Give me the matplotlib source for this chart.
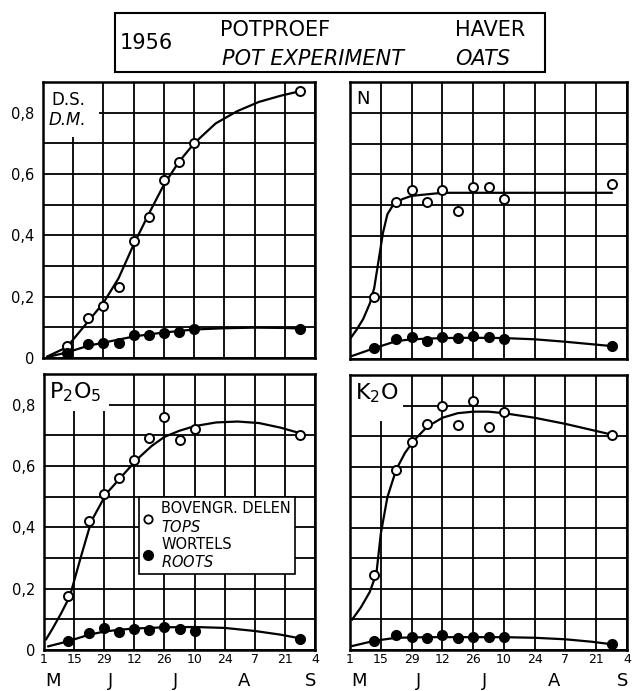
import matplotlib
matplotlib.use('Agg')
import matplotlib.pyplot as plt
from matplotlib.lines import Line2D
from matplotlib.patches import Rectangle
import matplotlib.transforms as mtransforms

plt.rcParams['font.family'] = 'DejaVu Sans'

# sampling dates, in days after 1 May 1956
sample_days = [11, 21, 28, 35, 42, 49, 56, 63, 70, 119]

# measured points (fraction of final value)
ds_tops = [0.04, 0.13, 0.17, 0.23, 0.38, 0.46, 0.58, 0.64, 0.70, 0.87]
ds_roots = [0.015, 0.045, 0.05, 0.05, 0.075, 0.075, 0.08, 0.085, 0.095, 0.095]
n_tops = [0.20, 0.51, 0.55, 0.51, 0.55, 0.48, 0.56, 0.56, 0.52, 0.57]
n_roots = [0.035, 0.065, 0.07, 0.058, 0.07, 0.068, 0.075, 0.07, 0.065, 0.042]
p_tops = [0.175, 0.42, 0.51, 0.56, 0.62, 0.69, 0.76, 0.685, 0.72, 0.70]
p_roots = [0.029, 0.054, 0.072, 0.059, 0.07, 0.065, 0.075, 0.068, 0.061, 0.035]
k_tops = [0.247, 0.59, 0.68, 0.74, 0.80, 0.735, 0.815, 0.73, 0.78, 0.705]
k_roots = [0.03, 0.05, 0.041, 0.038, 0.05, 0.038, 0.043, 0.043, 0.043, 0.019]

# hand drawn curves
ds_tops_curve_days = [2, 11, 21, 28, 35, 42, 49, 56, 63, 70, 80, 90, 100, 110, 119]
ds_tops_curve = [0.005, 0.035, 0.12, 0.18, 0.26, 0.37, 0.47, 0.565, 0.64, 0.70, 0.765, 0.805, 0.835, 0.855, 0.87]
ds_roots_curve_days = [2, 11, 21, 28, 35, 42, 49, 56, 63, 70, 84, 98, 112, 119]
ds_roots_curve = [0.003, 0.018, 0.04, 0.05, 0.06, 0.07, 0.077, 0.083, 0.088, 0.093, 0.097, 0.099, 0.098, 0.096]

n_tops_curve_days = [0, 3, 6, 9, 11, 13, 15, 17, 20, 24, 28, 35, 42, 56, 70, 90, 119]
n_tops_curve = [0.065, 0.095, 0.13, 0.18, 0.23, 0.32, 0.41, 0.47, 0.505, 0.52, 0.53, 0.535, 0.54, 0.54, 0.54, 0.54, 0.54]
n_roots_curve_days = [1, 11, 21, 28, 35, 42, 56, 70, 84, 98, 110, 119]
n_roots_curve = [0.01, 0.035, 0.058, 0.064, 0.066, 0.068, 0.069, 0.068, 0.064, 0.056, 0.048, 0.042]

p_tops_curve_days = [1, 4, 8, 12, 17, 22, 29, 36, 43, 50, 56, 63, 70, 80, 90, 100, 110, 120]
p_tops_curve = [0.035, 0.07, 0.12, 0.175, 0.30, 0.42, 0.51, 0.565, 0.62, 0.665, 0.695, 0.715, 0.73, 0.742, 0.745, 0.74, 0.725, 0.705]
p_roots_curve_days = [2, 11, 21, 28, 35, 42, 56, 70, 84, 98, 110, 119]
p_roots_curve = [0.012, 0.028, 0.05, 0.06, 0.066, 0.07, 0.074, 0.075, 0.072, 0.062, 0.05, 0.038]

k_tops_curve_days = [1, 5, 9, 12, 14, 17, 21, 25, 29, 35, 42, 49, 56, 63, 70, 84, 98, 110, 119]
k_tops_curve = [0.10, 0.14, 0.19, 0.25, 0.38, 0.50, 0.59, 0.645, 0.685, 0.73, 0.76, 0.775, 0.78, 0.78, 0.775, 0.76, 0.74, 0.72, 0.705]
k_roots_curve_days = [1, 11, 21, 35, 56, 70, 84, 98, 110, 120]
k_roots_curve = [0.013, 0.03, 0.04, 0.042, 0.042, 0.042, 0.04, 0.035, 0.027, 0.018]

# axes labels
tick_days = [0, 14, 28, 42, 56, 70, 84, 98, 112, 126]
tick_labels = ['1', '15', '29', '12', '26', '10', '24', '7', '21', '4']
month_days = [4, 31, 61, 93, 124]
month_names = ['M', 'J', 'J', 'A', 'S']
y_ticks = [0, 0.1, 0.2, 0.3, 0.4, 0.5, 0.6, 0.7, 0.8, 0.9]
y_labels = ['0', '', '0,2', '', '0,4', '', '0,6', '', '0,8', '']

W, H = 634, 691
fig = plt.figure(figsize=(W / 100, H / 100), dpi=100)

def px_axes(x0, y0, x1, y1):
    return fig.add_axes([x0 / W, 1 - y1 / H, (x1 - x0) / W, (y1 - y0) / H])

panels = [
    # box (px), tops, roots, curves, left col, bottom row
    ((43, 82, 315, 358), ds_tops, ds_roots,
     (ds_tops_curve_days, ds_tops_curve), (ds_roots_curve_days, ds_roots_curve), True, False),
    ((350, 82, 627, 359), n_tops, n_roots,
     (n_tops_curve_days, n_tops_curve), (n_roots_curve_days, n_roots_curve), False, False),
    ((44, 374, 315, 650), p_tops, p_roots,
     (p_tops_curve_days, p_tops_curve), (p_roots_curve_days, p_roots_curve), True, True),
    ((350, 375, 627, 650), k_tops, k_roots,
     (k_tops_curve_days, k_tops_curve), (k_roots_curve_days, k_roots_curve), False, True),
]

axes = []
for box, tops, roots, tcurve, rcurve, left, bottom in panels:
    ax = px_axes(*box)
    ax.set_xlim(0, 126)
    ax.set_ylim(0, 0.9)
    ax.set_xticks(tick_days)
    ax.set_yticks(y_ticks)
    ax.set_yticklabels(y_labels, fontsize=10.5)
    ax.set_xticklabels(tick_labels, fontsize=9)
    ax.tick_params(axis='x', length=0, pad=2)
    ax.tick_params(axis='y', length=0, pad=6)
    ax.tick_params(labelleft=left, labelbottom=bottom)
    ax.grid(True, color='black', lw=1.3)
    ax.set_axisbelow(True)
    for sp in ax.spines.values():
        sp.set_linewidth(1.8)

    ax.plot(tcurve[0], tcurve[1], color='black', lw=1.6, zorder=3)
    ax.plot(rcurve[0], rcurve[1], color='black', lw=1.6, zorder=3)
    ax.plot(sample_days, tops, 'o', mfc='white', mec='black', ms=6.5, mew=1.4, zorder=4)
    ax.plot(sample_days, roots, 'o', color='black', ms=7, zorder=4)

    if bottom:
        trans = mtransforms.blended_transform_factory(ax.transData, ax.transAxes)
        for d, m in zip(month_days, month_names):
            ax.text(d, -0.113, m, transform=trans, ha='center', va='center', fontsize=13)
    axes.append(ax)

# panel labels on white patches
ax_ds, ax_n, ax_p, ax_k = axes
ax_ds.add_patch(Rectangle((0, 0.72), 26, 0.18, facecolor='white', edgecolor='none', zorder=1))
ax_ds.text(11.5, 0.84, 'D.S.', ha='center', va='center', fontsize=12, zorder=5)
ax_ds.text(11.5, 0.775, 'D.M.', ha='center', va='center', fontsize=12, style='italic', zorder=5)

ax_n.text(6, 0.845, 'N', ha='center', va='center', fontsize=13, zorder=5)

ax_p.add_patch(Rectangle((0, 0.78), 30, 0.12, facecolor='white', edgecolor='none', zorder=1))
ax_p.text(2.5, 0.84, 'P$_2$O$_5$', ha='left', va='center', fontsize=16, zorder=5)

ax_k.add_patch(Rectangle((0, 0.75), 24, 0.15, facecolor='white', edgecolor='none', zorder=1))
ax_k.text(2.5, 0.84, 'K$_2$O', ha='left', va='center', fontsize=16, zorder=5)

# legend in the P2O5 panel
handles = [Line2D([], [], ls='none', marker='o', mfc='white', mec='black', ms=6, mew=1.3),
           Line2D([], [], ls='none', marker='o', color='black', ms=7)]
labels = ['BOVENGR. DELEN\n$\\mathit{TOPS}$', 'WORTELS\n$\\mathit{ROOTS}$']
leg = ax_p.legend(handles, labels, loc='upper left', bbox_to_anchor=(0.35, 0.553),
                  fontsize=10.5, frameon=True, fancybox=False, framealpha=1,
                  edgecolor='black', handlelength=0.8, handletextpad=0.5,
                  borderpad=0.25, labelspacing=0.15, borderaxespad=0)
leg.get_frame().set_linewidth(1.2)
leg.set_zorder(6)

# title box
fig.patches.append(Rectangle((115 / W, 1 - 72 / H), 430 / W, 59 / H, transform=fig.transFigure,
                             fill=False, edgecolor='black', lw=1.5))
fig.text(120 / W, 1 - 43 / H, '1956', ha='left', va='center', fontsize=15)
fig.text(220 / W, 1 - 30 / H, 'POTPROEF', ha='left', va='center', fontsize=15)
fig.text(455 / W, 1 - 30 / H, 'HAVER', ha='left', va='center', fontsize=15)
fig.text(222 / W, 1 - 59 / H, 'POT EXPERIMENT', ha='left', va='center', fontsize=15, style='italic')
fig.text(455 / W, 1 - 59 / H, 'OATS', ha='left', va='center', fontsize=15, style='italic')

fig.savefig('out.png', dpi=100)
